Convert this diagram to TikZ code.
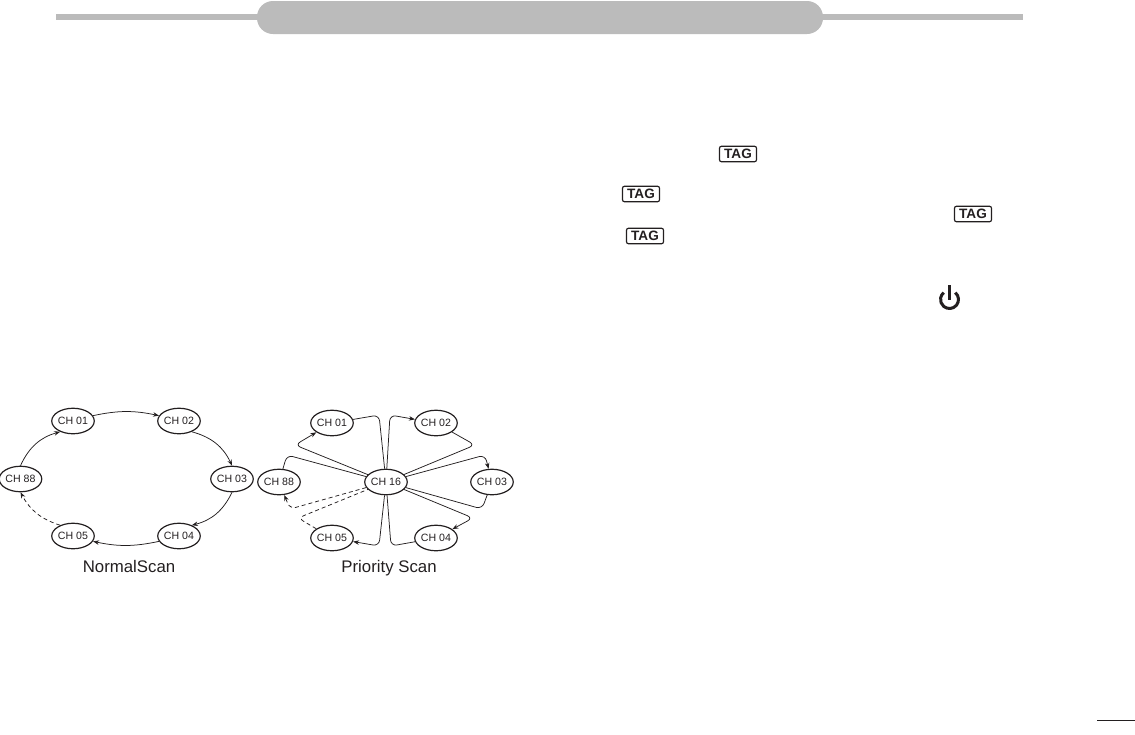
\documentclass[tikz,border=0pt]{standalone}
\usepackage{fontspec}
\setmainfont{Liberation Sans}
\usepackage{xcolor}
\usetikzlibrary{shapes.geometric,arrows.meta}
\definecolor{bargray}{RGB}{187,187,187}
\definecolor{inkdark}{RGB}{35,31,32}

\begin{document}
\begin{tikzpicture}[
    x=1pt, y=-1pt,
    chan/.style={draw=inkdark, ellipse, line width=1.2pt, minimum width=39pt, minimum height=25.5pt,
                inner sep=0pt, font=\fontsize{10.6}{12}\selectfont, text=inkdark},
    scanlabel/.style={font=\fontsize{16.8}{20}\selectfont, text=inkdark, anchor=base},
    tagkey/.style={draw=inkdark, rounded corners=2pt, line width=1.2pt, minimum width=37pt, minimum height=15.5pt,
                inner sep=0pt, font=\fontsize{13.6}{15}\selectfont\bfseries, text=inkdark},
    arr/.style={-{Stealth[length=6pt,width=4.5pt]}, line width=0.75pt, inkdark},
    lnk/.style={line width=0.75pt, inkdark},
    bendy/.style={rounded corners=6pt},
    dashy/.style={dash pattern=on 4pt off 3pt}
  ]
    \useasboundingbox (0,0) rectangle (1135,734);
    % Header
    \fill[bargray] (56,13.5) rectangle (1023,20);
    \node[fill=bargray, rounded corners=16pt, minimum width=566pt, minimum height=33pt, inner sep=0pt] (title) at (540,17.5) {};
    % Normal scan
    \node[chan] (na) at (73,421) {CH 01};
    \node[chan] (nb) at (179,421) {CH 02};
    \node[chan] (nc) at (232,479) {CH 03};
    \node[chan] (nd) at (179,536) {CH 04};
    \node[chan] (ne) at (73,536) {CH 05};
    \node[chan] (nf) at (20.5,479) {CH 88};
    \node[scanlabel] (ncap) at (129,572) {NormalScan};
    % Normal scan arrows
    \draw[arr] (na.15) to[bend left=12] (nb.165);
    \draw[arr] (nb.-40) to[bend left=25] (nc.north);
    \draw[arr] (nc.south) to[bend left=25] (nd.40);
    \draw[arr] (nd.195) to[bend left=12] (ne.-15);
    \draw[arr, dashy] (ne.140) to[bend left=22] (nf.south);
    \draw[arr] (nf.north) to[bend left=25] (na.220);
    % Priority scan
    \node[chan] (pc) at (386,482) {CH 16};
    \node[chan] (pa) at (332,423) {CH 01};
    \node[chan] (pb) at (436,423) {CH 02};
    \node[chan] (pd) at (492,482) {CH 03};
    \node[chan] (pe) at (436,538) {CH 04};
    \node[chan] (pf) at (332,538) {CH 05};
    \node[chan] (pg) at (279,482) {CH 88};
    \node[scanlabel] (pcap) at (389,572) {Priority Scan};
    % Priority scan arrows
    \draw[arr, bendy] (pc) -- (295,445) -- (pa);
    \draw[lnk, bendy] (pa) -- (379,415) -- (pc);
    \draw[arr, bendy] (pc) -- (390,415) -- (pb);
    \draw[lnk, bendy] (pb) -- (475,445) -- (pc);
    \draw[arr, bendy] (pc) -- (485,455) -- (pd);
    \draw[lnk, bendy] (pd) -- (482,509) -- (pc);
    \draw[arr, bendy] (pc) -- (473,518) -- (pe);
    \draw[lnk, bendy] (pe) -- (391,546) -- (pc);
    \draw[arr, bendy] (pc) -- (379,546) -- (pf);
    \draw[lnk, bendy, dashy] (pf) -- (298,518) -- (pc);
    \draw[arr, bendy, dashy] (pc) -- (290,509) -- (pg);
    \draw[lnk, bendy] (pg) -- (287,455) -- (pc);
    % Keys
    \node[tagkey] (taga) at (738,154) {TAG};
    \node[tagkey] (tagb) at (641,194) {TAG};
    \node[tagkey] (tagc) at (973,214) {TAG};
    \node[tagkey] (tagd) at (645,236) {TAG};
    % Power symbol
    \begin{scope}[y=1pt]
      \draw[inkdark, line width=3pt] (949.5,-299.5) ++(50:9) arc (50:-230:9);
    \end{scope}
    \draw[inkdark, line width=3.2pt] (949.5,285) -- (949.5,300);
    % Page number rule
    \fill[inkdark] (1097,719.5) rectangle (1135,721);
\end{tikzpicture}
\end{document}
